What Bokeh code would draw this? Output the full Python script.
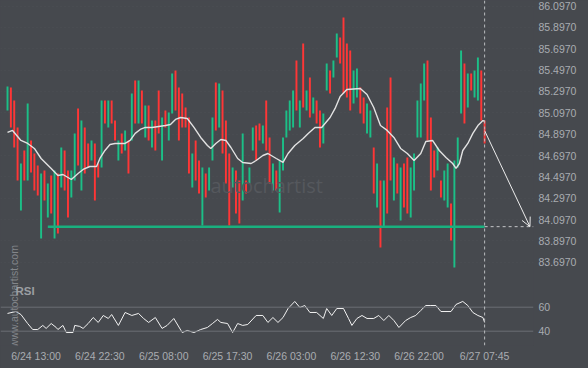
import math
from bokeh.plotting import figure
from bokeh.models import (Range1d, FixedTicker, PrintfTickFormatter, Span, Label,
                          Arrow, OpenHead, ColumnDataSource, GlobalInlineStyleSheet)
from bokeh.embed import file_html
from bokeh.resources import INLINE

# ---------------- data ----------------
# candles: one every 30 min, x measured in 15-minute slots from 6/24 08:45
highs = [85.344, 85.335, 85.213, 84.960, 84.622, 84.744, 85.185, 84.838, 84.716, 84.604,
         84.529, 84.557, 84.435, 84.510, 84.557, 84.529, 84.772, 84.744, 84.557, 84.557,
         84.904, 85.138, 85.025, 84.960, 84.810, 84.838, 84.810, 84.622, 85.213, 85.213,
         85.213, 85.213, 85.025, 84.838, 84.904, 84.932, 84.838, 85.278, 85.400, 85.400,
         85.307, 85.166, 85.166, 85.025, 85.025, 85.307, 85.053, 85.119, 85.100, 85.466,
         85.494, 85.335, 85.278, 85.147, 85.053, 84.716, 84.838, 84.650, 84.585, 84.529,
         84.585, 85.053, 85.381, 85.372, 85.307, 85.025, 84.716, 84.585, 84.557, 84.463,
         84.904, 84.463, 84.585, 84.960, 84.978, 84.997, 84.978, 85.213, 84.866, 84.622,
         84.557, 84.650, 84.866, 85.119, 85.213, 85.307, 85.588, 85.213, 85.747, 85.307,
         85.428, 85.241, 85.213, 85.119, 85.091, 85.560, 85.494, 85.588, 85.841, 85.803,
         85.991, 85.747, 85.681, 85.494, 85.513, 85.335, 85.241, 85.185, 85.119, 84.772,
         84.622, 84.463, 84.463, 85.147, 85.428, 84.679, 84.622, 84.585, 84.622, 84.679,
         84.585, 84.716, 85.213, 85.372, 85.560, 85.588, 85.053, 84.744, 84.772, 84.463,
         84.557, 84.622, 84.247, 84.650, 84.866, 85.681, 85.560, 85.466, 85.466, 85.494,
         85.616, 85.494, 85.025]
lows = [85.119, 84.960, 84.772, 84.463, 84.182, 84.463, 84.463, 84.538, 84.369, 84.322,
        83.919, 84.276, 84.116, 84.154, 83.919, 83.966, 84.397, 84.369, 84.116, 84.304,
        84.463, 84.604, 84.369, 84.529, 84.585, 84.650, 84.276, 84.491, 84.585, 84.997,
        84.960, 84.997, 84.838, 84.650, 84.716, 84.744, 84.529, 84.838, 84.997, 84.997,
        84.997, 84.866, 84.838, 84.772, 84.744, 84.904, 84.650, 84.960, 84.838, 85.091,
        85.119, 84.838, 84.960, 84.960, 84.529, 84.397, 84.463, 84.341, 84.041, 84.304,
        84.369, 84.650, 84.932, 84.960, 84.716, 84.435, 84.041, 84.397, 84.154, 84.060,
        84.276, 84.341, 84.435, 84.744, 84.650, 84.838, 84.810, 84.744, 84.435, 84.369,
        84.369, 84.163, 84.557, 84.866, 84.932, 84.960, 85.119, 84.960, 85.147, 85.119,
        85.053, 85.091, 84.997, 84.772, 84.810, 85.307, 85.278, 85.428, 85.616, 85.560,
        85.278, 85.241, 85.119, 85.185, 85.241, 85.091, 84.997, 84.904, 84.866, 84.341,
        84.210, 83.835, 84.023, 84.154, 84.463, 84.276, 84.341, 84.088, 84.210, 84.154,
        84.116, 84.369, 84.866, 84.866, 85.213, 84.838, 84.369, 84.491, 84.557, 84.304,
        84.276, 84.210, 83.901, 83.648, 84.585, 85.091, 84.997, 85.147, 85.307, 85.241,
        85.213, 85.025, 84.810]
rising = [1, 0, 0, 0, 1, 0, 1, 0, 0, 0,
          1, 0, 1, 0, 1, 0, 1, 0, 0, 1,
          1, 0, 1, 0, 0, 1, 0, 0, 1, 0,
          1, 0, 0, 1, 0, 1, 0, 1, 0, 1,
          0, 1, 0, 1, 0, 0, 1, 0, 1, 1,
          0, 0, 0, 0, 0, 1, 0, 0, 1, 0,
          1, 1, 0, 1, 0, 0, 0, 1, 0, 0,
          1, 0, 1, 1, 0, 0, 1, 0, 0, 1,
          0, 1, 1, 1, 1, 1, 0, 1, 0, 1,
          0, 1, 0, 0, 1, 1, 0, 1, 1, 0,
          0, 0, 0, 1, 1, 0, 0, 1, 1, 0,
          1, 0, 1, 0, 0, 1, 0, 1, 0, 0,
          1, 1, 1, 1, 1, 0, 0, 0, 1, 0,
          1, 1, 0, 1, 1, 1, 0, 1, 0, 1,
          1, 0, 0]

ma_slots = [0, 3, 8, 12, 16, 20, 26, 30, 33, 36, 38, 42, 45, 49, 53, 55, 58, 61, 64, 70,
            73, 76, 79, 82, 86, 90, 94, 97, 100, 103, 107, 111, 115, 119, 121, 124, 127, 130, 133, 137,
            140, 145, 148, 152, 155, 160, 164, 167, 171, 176, 179, 183, 187, 192, 195, 198, 202, 210, 214, 218,
            222, 226, 230, 234, 238, 242, 246, 249, 253, 257, 261, 265, 267, 269, 271, 274, 277, 280, 283, 284]
ma_vals = [84.913, 84.932, 84.838, 84.810, 84.763, 84.669, 84.576, 84.510, 84.519, 84.491,
           84.472, 84.529, 84.566, 84.594, 84.594, 84.669, 84.744, 84.800, 84.810, 84.810,
           84.838, 84.904, 84.941, 84.960, 84.960, 84.969, 84.978, 84.988, 85.035, 85.053,
           85.044, 84.960, 84.866, 84.791, 84.763, 84.810, 84.847, 84.838, 84.772, 84.669,
           84.632, 84.622, 84.650, 84.697, 84.716, 84.669, 84.632, 84.716, 84.791, 84.857,
           84.904, 84.960, 84.960, 85.053, 85.138, 85.250, 85.316, 85.325, 85.269, 85.147,
           84.978, 84.932, 84.866, 84.763, 84.716, 84.650, 84.716, 84.828, 84.838, 84.744,
           84.679, 84.622, 84.576, 84.622, 84.744, 84.810, 84.904, 84.978, 85.025, 85.016]

rsi_slots = [0, 5, 8, 12, 15, 18, 21, 23, 26, 29, 30, 33, 35, 39, 40, 43, 45, 48, 51, 54,
             57, 60, 62, 66, 70, 74, 78, 81, 84, 88, 92, 95, 99, 104, 107, 111, 115, 119, 122, 125,
             127, 131, 134, 137, 140, 143, 148, 152, 155, 158, 161, 164, 167, 171, 174, 177, 180, 184, 188, 190,
             193, 196, 200, 203, 205, 208, 211, 214, 218, 221, 224, 227, 230, 233, 237, 240, 243, 246, 249, 252,
             255, 258, 264, 267, 271, 274, 277, 280, 283, 284]
rsi_vals = [54.8, 56.4, 53.9, 46.4, 41.4, 41.4, 44.8, 42.3, 46.4, 43.1,
            41.4, 44.8, 38.9, 38.9, 44.8, 44.0, 42.3, 46.4, 51.4, 47.3,
            53.1, 50.6, 53.9, 44.8, 55.6, 53.1, 54.8, 50.6, 47.3, 51.4,
            42.3, 44.8, 50.6, 38.9, 40.6, 38.9, 41.4, 43.1, 46.4, 49.8,
            47.3, 46.4, 38.9, 46.4, 44.8, 45.6, 53.1, 53.1, 47.3, 51.4,
            47.3, 51.4, 58.9, 64.8, 59.8, 61.4, 55.6, 55.6, 50.6, 58.9,
            53.1, 58.9, 58.9, 50.6, 44.8, 50.6, 53.1, 50.6, 50.6, 53.1,
            48.9, 53.1, 48.9, 43.1, 48.9, 51.4, 53.1, 57.3, 61.4, 61.4,
            61.4, 56.4, 56.4, 62.3, 64.8, 61.4, 55.6, 53.1, 51.4, 47.3]

support_level = 84.03
support_slots = [24, 284]
forecast_slots = [284, 311]
forecast_prices = [84.93, 84.03]

price_ticks = [83.697, 83.897, 84.097, 84.297, 84.497, 84.697, 84.897,
               85.097, 85.297, 85.497, 85.697, 85.897, 86.097]
rsi_levels = [60, 40]
time_tick_slots = [17, 55, 93, 131, 169, 207, 245, 284]
time_tick_labels = ["6/24 13:00", "6/24 22:30", "6/25 08:00", "6/25 17:30",
                    "6/26 03:00", "6/26 12:30", "6/26 22:00", "6/27 07:45"]

# ---------------- styling ----------------
BG = "#46494e"
GREEN = "#1cbf87"
RED = "#ff3636"
TXT = "#a9acb1"
FONT = "Liberation Sans"

X0, X1 = -4.17, 313.1
P_LO, P_HI = 82.916, 86.150
R_LO, R_HI = 28.08, 315.6


def rsi_to_price(v):
    return P_LO + (v - R_LO) / (R_HI - R_LO) * (P_HI - P_LO)


p = figure(width=588, height=368, output_backend="svg", toolbar_location=None,
           x_range=Range1d(X0, X1), y_range=Range1d(P_LO, P_HI),
           y_axis_location="right",
           min_border_left=0, min_border_right=55, min_border_top=0, min_border_bottom=23,
           background_fill_color=BG, border_fill_color=BG, outline_line_color=None)
p.extra_y_ranges = {"rsi": Range1d(R_LO, R_HI)}
p.stylesheets = [GlobalInlineStyleSheet(css="body{background-color:%s;}" % BG)]

# grid
p.xgrid.grid_line_color = None
p.ygrid.ticker = FixedTicker(ticks=price_ticks)
p.ygrid.grid_line_color = "#4d5055"
p.ygrid.grid_line_dash = "1 3"

# y axis (price, plus the RSI levels)
rsi_tick_pos = [rsi_to_price(v) for v in rsi_levels]
yax = p.yaxis[0]
yax.ticker = FixedTicker(ticks=price_ticks + rsi_tick_pos)
yax.formatter = PrintfTickFormatter(format="%.4f")
yax.major_label_overrides = {pos: str(v) for pos, v in zip(rsi_tick_pos, rsi_levels)}
# x axis
xax = p.xaxis[0]
xax.ticker = FixedTicker(ticks=time_tick_slots)
xax.major_label_overrides = dict(zip(time_tick_slots, time_tick_labels))
for ax in (xax, yax):
    ax.axis_line_color = None
    ax.major_tick_line_color = None
    ax.minor_tick_line_color = None
    ax.major_tick_out = 0
    ax.major_tick_in = 0
    ax.minor_tick_out = 0
    ax.minor_tick_in = 0
    ax.major_label_text_color = TXT
    ax.major_label_text_font = FONT
    ax.major_label_text_font_size = "10.5px"
yax.major_label_standoff = 5
xax.major_label_standoff = 4

# watermarks
p.add_layout(Label(x=120.8, y=84.416, text="autochartist", text_font="Open Sans",
                   text_font_size="20px", text_color="#55585d", text_baseline="middle",
                   text_align="left"))
p.add_layout(Label(x=3.57, y=82.90, text="www.autochartist.com", angle=math.pi / 2,
                   text_font=FONT, text_font_size="10.5px", text_color="#83868b",
                   text_align="left", text_baseline="middle"))

# RSI guide lines
for lv in rsi_levels:
    p.add_layout(Span(location=lv, dimension="width", y_range_name="rsi",
                      line_color="#6c6f74", line_width=1))

# candles
src = ColumnDataSource(dict(
    x=[2 * i for i in range(len(highs))],
    high=highs, low=lows,
    color=[GREEN if r else RED for r in rising]))
p.vbar(x="x", width=1.15, top="high", bottom="low", fill_color="color",
       line_color=None, source=src)

# moving average
p.line(ma_slots, ma_vals, line_color="#e2e2e2", line_width=1.4)

# support line and its projection
p.segment(x0=[support_slots[0]], y0=[support_level], x1=[support_slots[1]], y1=[support_level],
          line_color="#19b07e", line_width=2.5)
p.segment(x0=[support_slots[1]], y0=[support_level], x1=[X1], y1=[support_level],
          line_color="#c4c6c9", line_width=1, line_dash="3 3")

# current-time marker
p.add_layout(Span(location=support_slots[1], dimension="height", line_color="#b9bbbe",
                  line_width=1, line_dash="3 3"))

# forecast arrow
p.add_layout(Arrow(end=OpenHead(size=9, line_color="#ececec", line_width=1),
                   x_start=forecast_slots[0], y_start=forecast_prices[0],
                   x_end=forecast_slots[1], y_end=forecast_prices[1],
                   line_color="#ececec", line_width=1))

# RSI
p.line(rsi_slots, rsi_vals, y_range_name="rsi", line_color="#f2f2f2", line_width=1)
p.add_layout(Label(x=4.8, y=73.1, y_range_name="rsi", text="RSI", text_font=FONT,
                   text_font_style="bold", text_font_size="11.5px", text_color="#9c9fa3",
                   text_baseline="middle", text_align="left"))

open("out.html", "w").write(file_html(p, INLINE))
